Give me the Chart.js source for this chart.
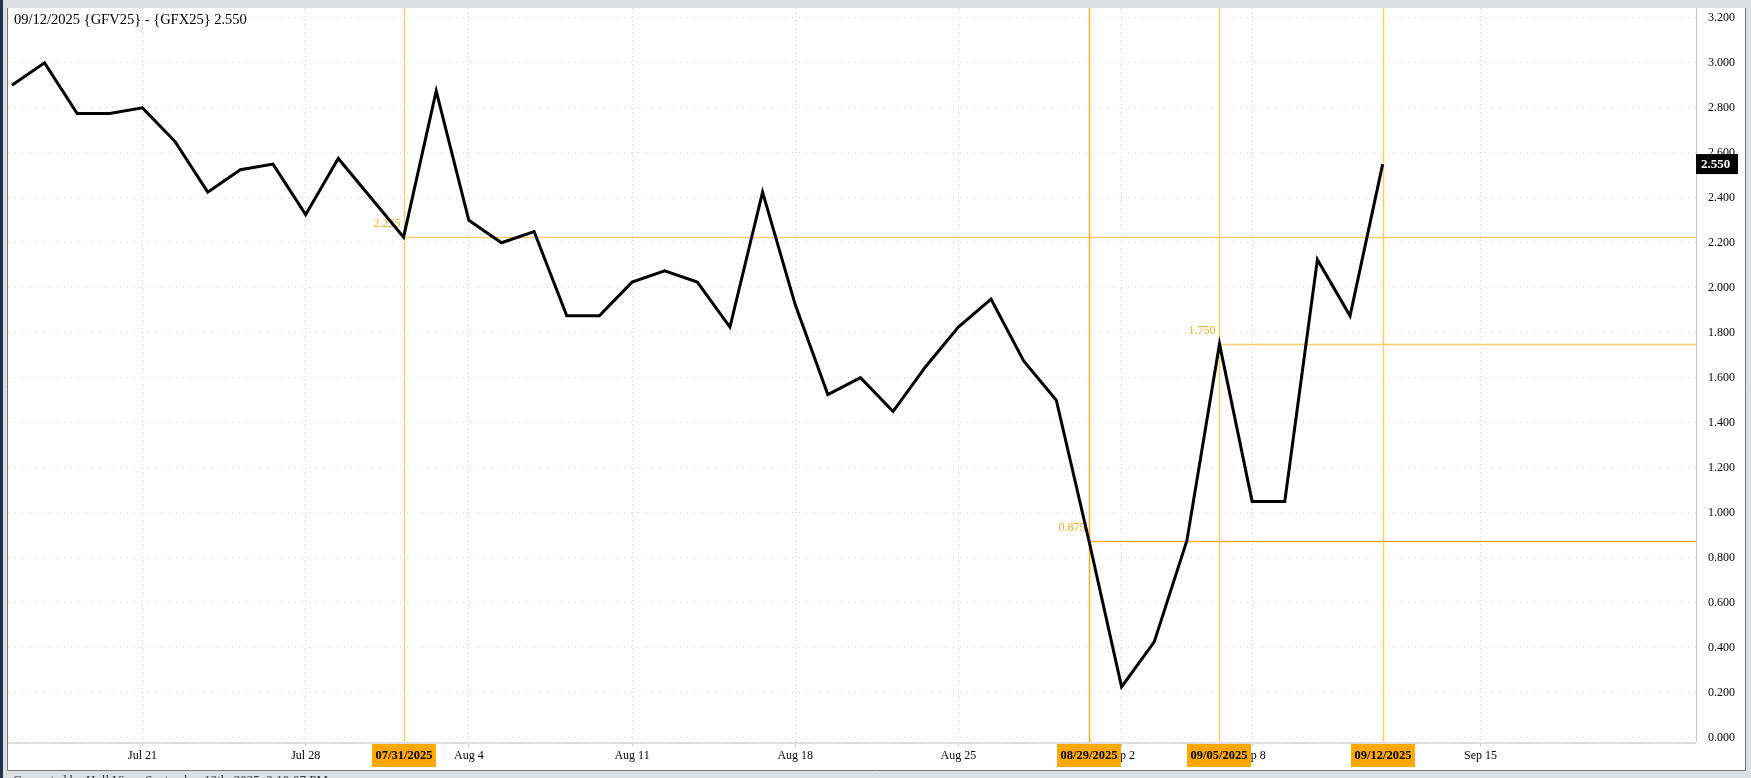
<!DOCTYPE html>
<html>
<head>
<meta charset="utf-8">
<script src="https://cdn.jsdelivr.net/npm/chart.js@4.4.1/dist/chart.umd.min.js"></script>
<style>
  html, body { margin: 0; padding: 0; background: #dcdfe2; overflow: hidden; }
  canvas { display: block; }
</style>
</head>
<body>
<canvas id="chart" width="1751" height="778"></canvas>
<script>
// trading days shown on the chart
const dates = [
  '07/15/2025', '07/16/2025', '07/17/2025', '07/18/2025', '07/21/2025', '07/22/2025',
  '07/23/2025', '07/24/2025', '07/25/2025', '07/28/2025', '07/29/2025', '07/30/2025',
  '07/31/2025', '08/01/2025', '08/04/2025', '08/05/2025', '08/06/2025', '08/07/2025',
  '08/08/2025', '08/11/2025', '08/12/2025', '08/13/2025', '08/14/2025', '08/15/2025',
  '08/18/2025', '08/19/2025', '08/20/2025', '08/21/2025', '08/22/2025', '08/25/2025',
  '08/26/2025', '08/27/2025', '08/28/2025', '08/29/2025', '09/02/2025', '09/03/2025',
  '09/04/2025', '09/05/2025', '09/08/2025', '09/09/2025', '09/10/2025', '09/11/2025',
  '09/12/2025'
];
// GFV25 - GFX25 spread
const spread = [
  2.900, 3.000, 2.775, 2.775, 2.800, 2.650,
  2.425, 2.525, 2.550, 2.325, 2.575, 2.400,
  2.225, 2.875, 2.300, 2.200, 2.250, 1.875,
  1.875, 2.025, 2.075, 2.025, 1.825, 2.425,
  1.925, 1.525, 1.600, 1.450, 1.650, 1.825,
  1.950, 1.675, 1.500, 0.875, 0.225, 0.425,
  0.875, 1.750, 1.050, 1.050, 2.125, 1.875,
  2.550
];

// x axis: slot positions and their labels (Sep 15 sits in the future part of the axis)
const xTickSlots = [4, 9, 14, 19, 24, 29, 34, 38, 45];
const xTickLabels = ['Jul 21', 'Jul 28', 'Aug 4', 'Aug 11', 'Aug 18', 'Aug 25', 'Sep 2', 'Sep 8', 'Sep 15'];
const yTicks = [0, 0.2, 0.4, 0.6, 0.8, 1.0, 1.2, 1.4, 1.6, 1.8, 2.0, 2.2, 2.4, 2.6, 2.8, 3.0, 3.2];

// marked dates (orange lines) and the ones that carry a level line
const markerDates = ['07/31/2025', '08/29/2025', '09/05/2025', '09/12/2025'];
const levelDates = ['07/31/2025', '08/29/2025', '09/05/2025'];

const SERIF = "'Liberation Serif', 'Times New Roman', serif";
const LIGHT_ORANGE = '#fdca6c';
const DARK_ORANGE = '#f9ab1e';
const strongMarkers = ['08/29/2025'];

Chart.defaults.font.family = SERIF;
Chart.defaults.color = '#000';

const frame = {
  id: 'frame',
  beforeDraw(chart) {
    const ctx = chart.ctx;
    ctx.save();
    ctx.fillStyle = '#dcdfe2';
    ctx.fillRect(0, 0, chart.width, chart.height);
    ctx.fillStyle = '#24304d';
    ctx.fillRect(0, 0, 3, chart.height);
    ctx.fillStyle = '#fff';
    ctx.fillRect(8, 8, 1737, 762);
    ctx.strokeStyle = '#777';
    ctx.lineWidth = 1;
    ctx.beginPath();
    ctx.moveTo(7.5, 8); ctx.lineTo(7.5, 770.5); ctx.lineTo(1745.5, 770.5); ctx.lineTo(1745.5, 8);
    ctx.stroke();
    // footer, mostly cut off by the window
    ctx.fillStyle = '#333';
    ctx.font = '13px ' + SERIF;
    ctx.textBaseline = 'top';
    ctx.fillText('Generated by Hull View, September 12th, 2025, 2:10:07 PM', 13, 774);
    ctx.restore();
  },
  beforeDatasetsDraw(chart) {
    const {ctx, chartArea: a, scales: {x, y}} = chart;
    ctx.save();
    // axis lines
    ctx.strokeStyle = '#c9c9c9';
    ctx.lineWidth = 1;
    ctx.beginPath();
    ctx.moveTo(a.right + 0.5, a.top); ctx.lineTo(a.right + 0.5, a.bottom);
    ctx.stroke();
    ctx.strokeStyle = '#dedede';
    ctx.lineWidth = 2;
    ctx.beginPath();
    ctx.moveTo(a.left, a.bottom + 1); ctx.lineTo(a.right, a.bottom + 1);
    ctx.stroke();

    markerDates.forEach(d => {
      const i = dates.indexOf(d);
      const px = Math.round(x.getPixelForValue(i)) + 0.5;
      const py = Math.round(y.getPixelForValue(spread[i])) + 0.5;
      const col = strongMarkers.includes(d) ? DARK_ORANGE : LIGHT_ORANGE;
      ctx.strokeStyle = col;
      ctx.lineWidth = 1.5;
      ctx.beginPath();
      ctx.moveTo(px, a.top); ctx.lineTo(px, a.bottom);
      ctx.stroke();
      if (levelDates.includes(d)) {
        ctx.beginPath();
        ctx.moveTo(px, py); ctx.lineTo(a.right, py);
        ctx.stroke();
        ctx.fillStyle = '#f7a825';
        ctx.font = '12px ' + SERIF;
        ctx.textAlign = 'right';
        ctx.textBaseline = 'middle';
        ctx.fillText(spread[i].toFixed(3), px - 4, py - 14);
      }
    });
    ctx.restore();
  },
  afterDraw(chart) {
    const {ctx, chartArea: a, scales: {x, y}} = chart;
    ctx.save();
    // date boxes under the marker lines
    ctx.font = 'bold 12.5px ' + SERIF;
    ctx.textAlign = 'center';
    ctx.textBaseline = 'middle';
    markerDates.forEach(d => {
      const i = dates.indexOf(d);
      const px = Math.round(x.getPixelForValue(i));
      const w = ctx.measureText(d).width + 7;
      ctx.fillStyle = '#ffa800';
      ctx.fillRect(px - w / 2, a.bottom + 2, w, 23);
      ctx.fillStyle = '#000';
      ctx.fillText(d, px, a.bottom + 14);
    });

    // last price tag on the value axis
    const last = spread[spread.length - 1];
    const ly = y.getPixelForValue(last);
    ctx.fillStyle = '#000';
    ctx.fillRect(a.right, ly - 10, 42, 20);
    ctx.fillStyle = '#fff';
    ctx.font = 'bold 13px ' + SERIF;
    ctx.textAlign = 'left';
    ctx.fillText(last.toFixed(3), a.right + 5, ly + 1);

    // title
    ctx.fillStyle = '#000';
    ctx.font = '14.5px ' + SERIF;
    ctx.textBaseline = 'middle';
    ctx.fillText(dates[dates.length - 1] + ' {GFV25} - {GFX25} ' + last.toFixed(3), 14, 20);
    ctx.restore();
  }
};

new Chart(document.getElementById('chart'), {
  type: 'line',
  data: {
    datasets: [{
      data: spread.map((v, i) => ({x: i, y: v})),
      borderColor: '#000',
      borderWidth: 3,
      pointRadius: 0,
      tension: 0,
      fill: false
    }]
  },
  options: {
    responsive: false,
    devicePixelRatio: 1,
    animation: false,
    layout: { padding: { left: 8, top: 8, right: 0, bottom: 0 } },
    plugins: { legend: { display: false }, tooltip: { enabled: false } },
    scales: {
      x: {
        type: 'linear',
        min: -0.12,
        max: 51.6,
        afterBuildTicks: s => { s.ticks = xTickSlots.map(v => ({value: v})); },
        afterFit: s => { s.height = 36; s.paddingLeft = 0; s.paddingRight = 0; },
        ticks: {
          autoSkip: false,
          maxRotation: 0,
          padding: 3,
          font: { size: 12 },
          callback: (v, i) => xTickLabels[i]
        },
        grid: { color: '#cfcfcf', lineWidth: 1, tickLength: 4, tickColor: '#c4c4c4' },
        border: { display: false, dash: [1, 3] }
      },
      y: {
        position: 'right',
        min: -0.02,
        max: 3.244,
        afterBuildTicks: s => { s.ticks = yTicks.map(v => ({value: v})); },
        afterFit: s => { s.width = 55; s.paddingTop = 0; s.paddingBottom = 0; },
        ticks: {
          padding: 12,
          font: { size: 12 },
          callback: v => Number(v).toFixed(3)
        },
        grid: { color: '#d2d2d2', lineWidth: 1, drawTicks: false },
        border: { display: false, dash: [1, 6] }
      }
    }
  },
  plugins: [frame]
});
</script>
</body>
</html>
